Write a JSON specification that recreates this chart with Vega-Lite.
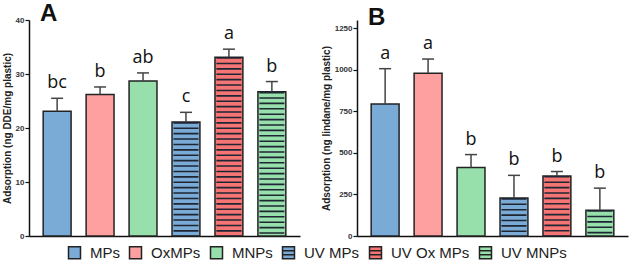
{
  "$schema": "https://vega.github.io/schema/vega-lite/v6.json",
  "background": "white",
  "padding": {"left": 2, "top": 2, "right": 2, "bottom": 0},
  "config": {
    "view": {"stroke": null},
    "font": "Liberation Sans",
    "axis": {
      "domainColor": "#111111",
      "domainWidth": 1.5,
      "tickColor": "#111111",
      "tickWidth": 1.2,
      "grid": false
    },
    "axisY": {
      "tickSize": 4,
      "labelFontSize": 8,
      "labelFontWeight": "bold",
      "labelColor": "#333333",
      "labelPadding": 1,
      "format": "d",
      "titleFontSize": 10,
      "titleFontWeight": "bold",
      "titleColor": "#222222",
      "titlePadding": 3
    },
    "axisX": {"labels": false, "ticks": false, "title": null, "labelPadding": 0, "tickSize": 0},
    "title": {"fontSize": 24, "fontWeight": "bold", "color": "#111111", "anchor": "start", "frame": "group", "dx": 11, "offset": -10},
    "legend": {
      "orient": "none",
      "legendX": 38,
      "legendY": 225,
      "direction": "horizontal",
      "title": null,
      "padding": 0,
      "symbolType": "square",
      "symbolSize": 144,
      "symbolStrokeColor": "#222222",
      "symbolStrokeWidth": 1.5,
      "symbolOpacity": 1,
      "labelFontSize": 15,
      "labelColor": "#222222",
      "labelOffset": 8,
      "columnPadding": 6
    }
  },
  "datasets": {
    "dde": [
      {"group": "MPs", "value": 23.1, "upper": 25.5, "letter": "bc"},
      {"group": "OxMPs", "value": 26.2, "upper": 27.6, "letter": "b"},
      {"group": "MNPs", "value": 28.7, "upper": 30.2, "letter": "ab"},
      {"group": "UV MPs", "value": 21.1, "upper": 22.9, "letter": "c"},
      {"group": "UV Ox MPs", "value": 33.1, "upper": 34.6, "letter": "a"},
      {"group": "UV MNPs", "value": 26.7, "upper": 28.6, "letter": "b"}
    ],
    "lindane": [
      {"group": "MPs", "value": 795, "upper": 1007, "letter": "a"},
      {"group": "OxMPs", "value": 980, "upper": 1065, "letter": "a"},
      {"group": "MNPs", "value": 413, "upper": 490, "letter": "b"},
      {"group": "UV MPs", "value": 228, "upper": 365, "letter": "b"},
      {"group": "UV Ox MPs", "value": 361, "upper": 388, "letter": "b"},
      {"group": "UV MNPs", "value": 155, "upper": 288, "letter": "b"}
    ]
  },
  "spacing": 21,
  "hconcat": [
    {
      "title": "A",
      "width": 271,
      "height": 216,
      "data": {"name": "dde"},
      "encoding": {
        "x": {
          "field": "group",
          "type": "nominal",
          "sort": null,
          "scale": {"paddingInner": 0.35, "paddingOuter": 0.33}
        }
      },
      "layer": [
        {
          "mark": {"type": "bar", "stroke": "#222222", "strokeWidth": 1.5},
          "encoding": {
            "y": {
              "field": "value",
              "type": "quantitative",
              "scale": {"domain": [0, 40]},
              "axis": {"values": [0, 10, 20, 30, 40], "title": "Adsorption (ng DDE/mg plastic)"}
            },
            "fill": {
              "field": "group",
              "type": "nominal",
              "scale": {
                "domain": ["MPs", "OxMPs", "MNPs", "UV MPs", "UV Ox MPs", "UV MNPs"],
                "range": ["#7aaad6", "#ffa0a0", "#97e0ac", "#7aaad6", "#f57575", "#97e0ac"]
              },
              "legend": {
                "symbolStrokeColor": "#222222",
                "encode": {
                  "symbols": {
                    "update": {
                      "shape": {"signal": "indexof(datum.value, 'UV') === 0 ? 'M-1,-1H1V1H-1Z M-1,-0.33H1 M-1,0.33H1' : 'square'"}
                    }
                  }
                }
              }
            }
          }
        },
        {
          "transform": [{"filter": "indexof(datum.group, 'UV') === 0"}],
          "mark": {"type": "rule", "stroke": "#1e2633", "strokeWidth": 25, "strokeDash": [1.6, 3.8], "strokeCap": "butt"},
          "encoding": {
            "y": {"field": "value", "type": "quantitative"},
            "y2": {"datum": 0}
          }
        },
        {
          "mark": {"type": "rule", "stroke": "#444444", "strokeWidth": 1.5},
          "encoding": {
            "y": {"field": "value", "type": "quantitative"},
            "y2": {"field": "upper"}
          }
        },
        {
          "mark": {"type": "tick", "color": "#444444", "size": 12, "thickness": 1.5, "opacity": 1},
          "encoding": {"y": {"field": "upper", "type": "quantitative"}}
        },
        {
          "mark": {"type": "text", "font": "Open Sans", "fontSize": 18, "color": "#111111", "baseline": "alphabetic", "dy": -10},
          "encoding": {
            "y": {"field": "upper", "type": "quantitative"},
            "text": {"field": "letter"}
          }
        }
      ]
    },
    {
      "title": "B",
      "width": 271,
      "height": 216,
      "data": {"name": "lindane"},
      "encoding": {
        "x": {
          "field": "group",
          "type": "nominal",
          "sort": null,
          "scale": {"paddingInner": 0.35, "paddingOuter": 0.33}
        }
      },
      "layer": [
        {
          "mark": {"type": "bar", "stroke": "#222222", "strokeWidth": 1.5},
          "encoding": {
            "y": {
              "field": "value",
              "type": "quantitative",
              "scale": {"domain": [0, 1250]},
              "axis": {"values": [0, 250, 500, 750, 1000, 1250], "title": "Adsorption (ng lindane/mg plastic)"}
            },
            "fill": {"field": "group", "type": "nominal"}
          }
        },
        {
          "transform": [{"filter": "indexof(datum.group, 'UV') === 0"}],
          "mark": {"type": "rule", "stroke": "#1e2633", "strokeWidth": 25, "strokeDash": [1.6, 3.8], "strokeCap": "butt"},
          "encoding": {
            "y": {"field": "value", "type": "quantitative"},
            "y2": {"datum": 0}
          }
        },
        {
          "mark": {"type": "rule", "stroke": "#444444", "strokeWidth": 1.5},
          "encoding": {
            "y": {"field": "value", "type": "quantitative"},
            "y2": {"field": "upper"}
          }
        },
        {
          "mark": {"type": "tick", "color": "#444444", "size": 12, "thickness": 1.5, "opacity": 1},
          "encoding": {"y": {"field": "upper", "type": "quantitative"}}
        },
        {
          "mark": {"type": "text", "font": "Open Sans", "fontSize": 18, "color": "#111111", "baseline": "alphabetic", "dy": -10},
          "encoding": {
            "y": {"field": "upper", "type": "quantitative"},
            "text": {"field": "letter"}
          }
        }
      ]
    }
  ]
}
